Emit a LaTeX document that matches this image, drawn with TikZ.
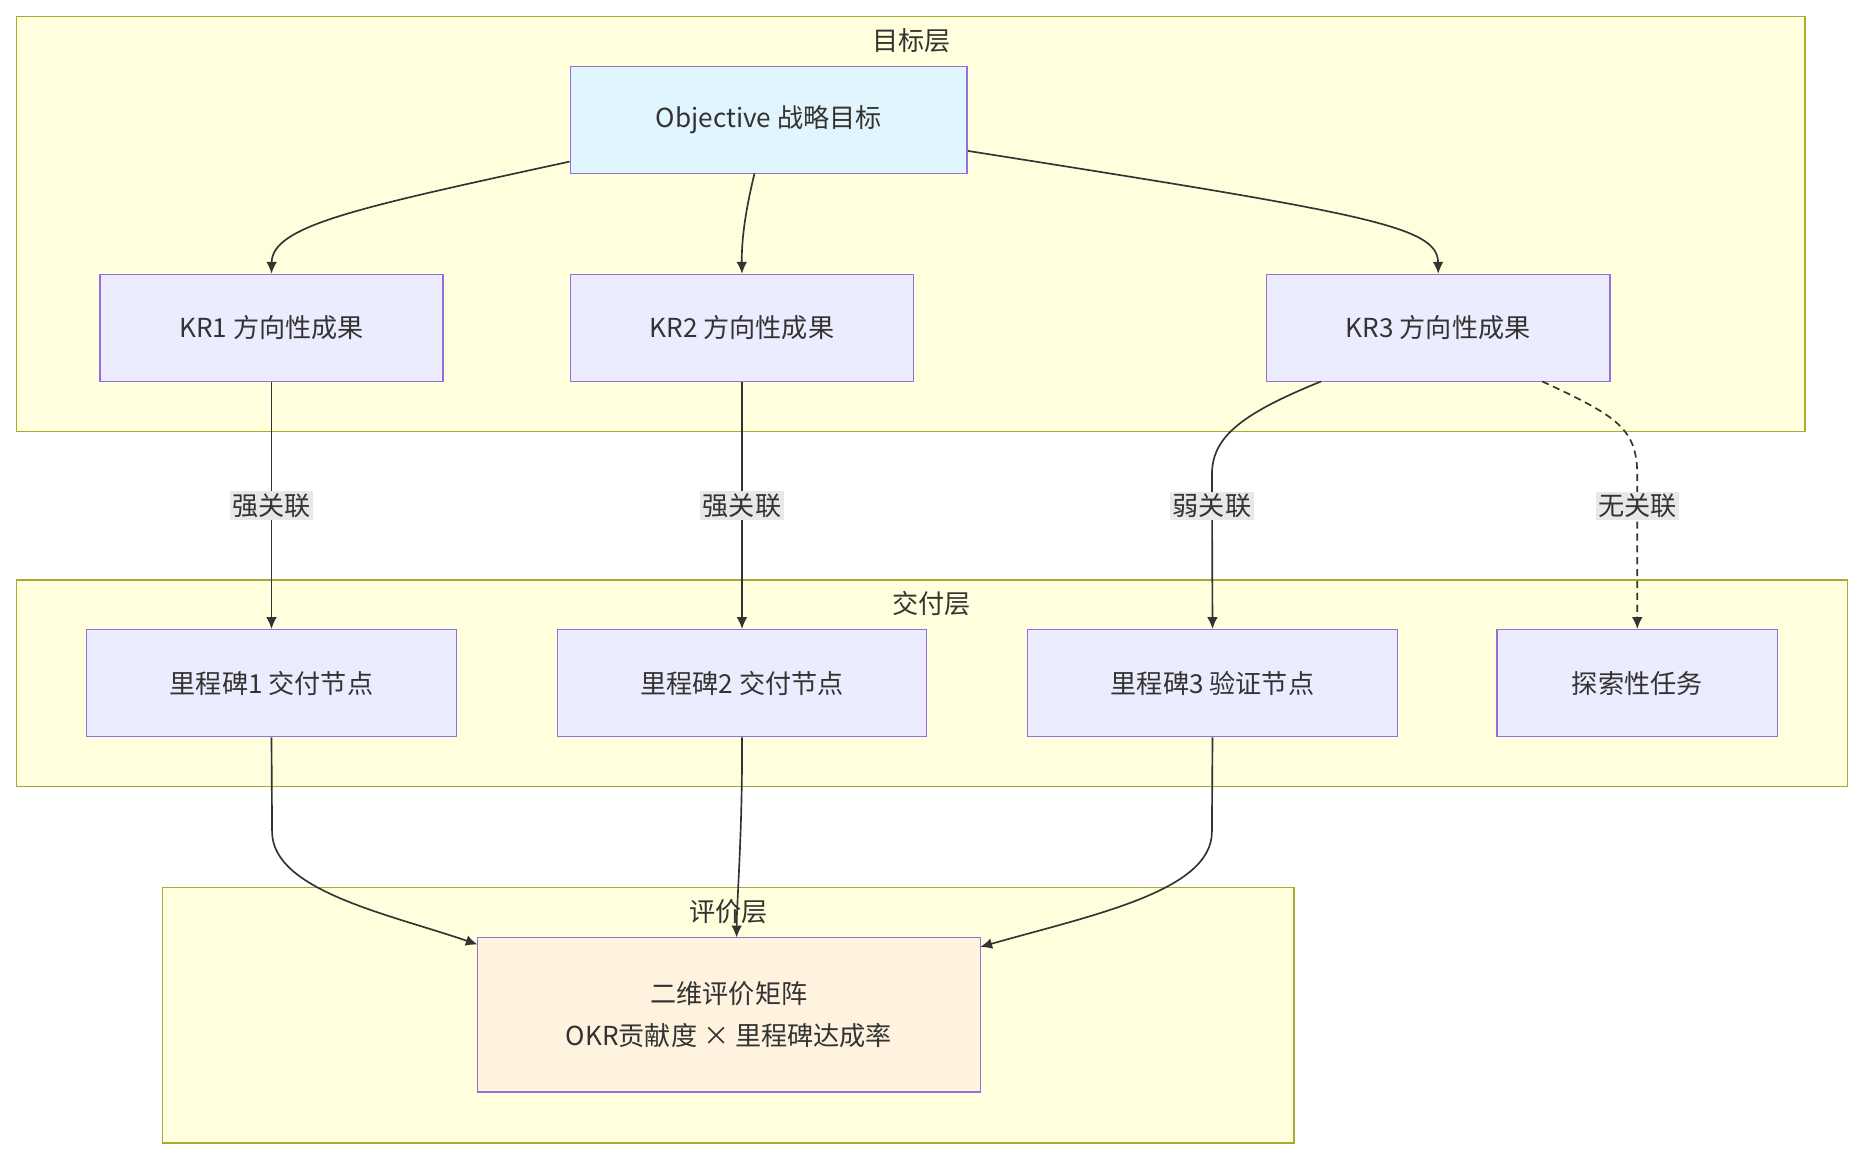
\documentclass[tikz,border=0pt]{standalone}
\usepackage{fontspec}
\setmainfont{Noto Sans CJK SC}
\usetikzlibrary{arrows.meta}
\definecolor{clfill}{HTML}{FFFFDE}
\definecolor{cldraw}{HTML}{AAAA33}
\definecolor{ndfill}{HTML}{ECECFF}
\definecolor{nddraw}{HTML}{9370DB}
\definecolor{objfill}{HTML}{E1F5FE}
\definecolor{matfill}{HTML}{FFF3E0}
\definecolor{lblbg}{HTML}{E8E8E8}
\definecolor{txt}{HTML}{333333}
\tikzset{
  cluster/.style={draw=cldraw,fill=clfill,line width=0.6pt},
  box/.style={draw=nddraw,fill=ndfill,line width=0.6pt,text=txt,font=\fontsize{11}{14}\selectfont,inner sep=0pt,align=center},
  ttl/.style={text=txt,font=\fontsize{11}{14}\selectfont},
  lbl/.style={fill=lblbg,text=txt,font=\fontsize{11}{14}\selectfont,inner sep=1pt},
  edge/.style={draw=txt,line width=0.7pt,-{Latex[length=5pt,width=4.5pt]}}
}
\begin{document}
\begin{tikzpicture}[x=0.5pt,y=-0.5pt]
\useasboundingbox (0,0) rectangle (1568,976);
\draw[cluster] (14,14) rectangle (1519,363);
\draw[cluster] (14,488) rectangle (1555,662);
\draw[cluster] (137,747) rectangle (1089,962);
\node[ttl] (t1) at (767,34) {目标层};
\node[ttl] (t2) at (784,508) {交付层};
\node[ttl] (t3) at (613,767) {评价层};
\node[box,fill=objfill,minimum width=167pt,minimum height=45pt] (obj) at (647,101) {Objective 战略目标};
\node[box,minimum width=144.5pt,minimum height=45pt] (kr1) at (228.5,276) {KR1 方向性成果};
\node[box,minimum width=144.5pt,minimum height=45pt] (kr2) at (624.5,276) {KR2 方向性成果};
\node[box,minimum width=144.5pt,minimum height=45pt] (kr3) at (1210.5,276) {KR3 方向性成果};
\node[box,minimum width=155.5pt,minimum height=45pt] (m1) at (228.5,575) {里程碑1 交付节点};
\node[box,minimum width=155.5pt,minimum height=45pt] (m2) at (624.5,575) {里程碑2 交付节点};
\node[box,minimum width=155.5pt,minimum height=45pt] (m3) at (1020.5,575) {里程碑3 验证节点};
\node[box,minimum width=118pt,minimum height=45pt] (ex) at (1378,575) {探索性任务};
\node[box,fill=matfill,minimum width=211.5pt,minimum height=65pt] (mat) at (613.5,854) {二维评价矩阵\\[4pt]OKR贡献度 × 里程碑达成率};
\draw[edge] (obj.west |- 0,136) .. controls (300,175) and (229,190) .. (kr1.north);
\draw[edge] (635,146) .. controls (628,175) and (624,200) .. (kr2.north);
\draw[edge] (obj.east |- 0,127) .. controls (1150,180) and (1210,190) .. (kr3.north);
\draw[edge] (kr1.south) -- node[lbl] {强关联} (m1.north);
\draw[edge] (kr2.south) -- node[lbl] {强关联} (m2.north);
\draw[edge] (1112,321) .. controls (1040,350) and (1020,370) .. (1020,400) -- node[lbl,pos=0.2] {弱关联} (m3.north);
\draw[edge,densely dashed] (1298,321) .. controls (1360,350) and (1378,360) .. (1378,400) -- node[lbl,pos=0.2] {无关联} (ex.north);
\draw[edge] (m1.south) -- (229,700) .. controls (229,750) and (330,770) .. (402,795);
\draw[edge] (m2.south) .. controls (625,700) and (620,760) .. (620,789);
\draw[edge] (m3.south) -- (1020,700) .. controls (1020,750) and (920,770) .. (825,797);
\end{tikzpicture}
\end{document}
